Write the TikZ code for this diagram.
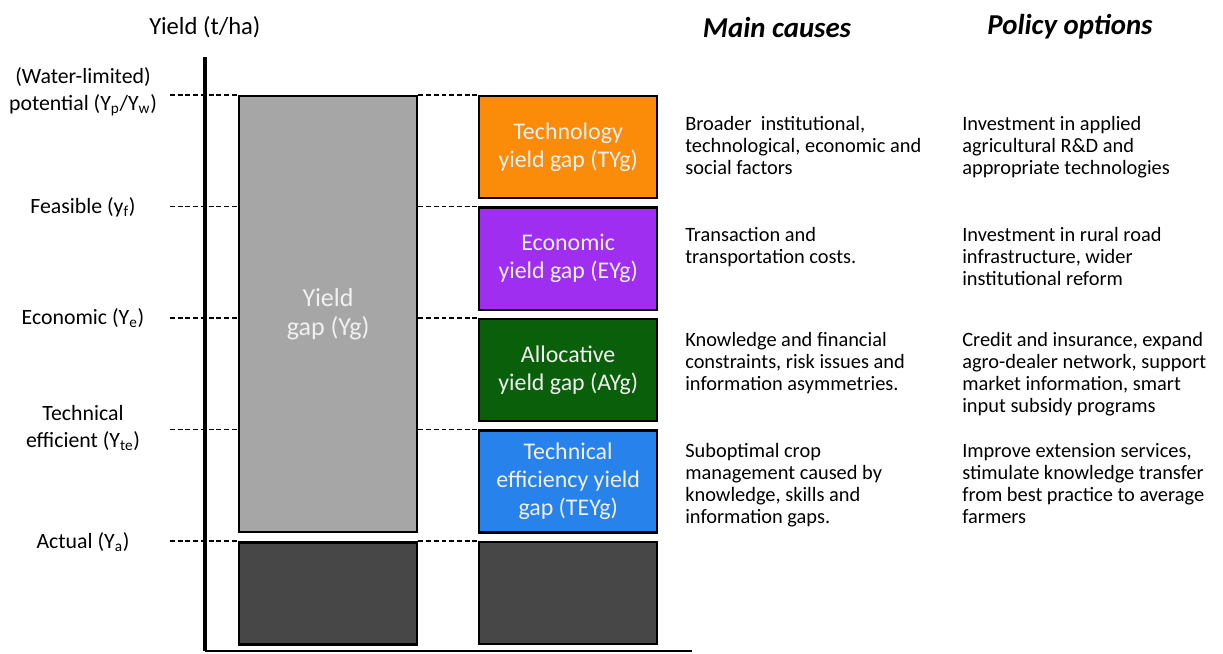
\documentclass[tikz,border=0pt]{standalone}
\usepackage{fontspec}
\setmainfont{Carlito}
\usepackage{tikz}
\usetikzlibrary{positioning}

\definecolor{tygorange}{HTML}{FB8C0A}
\definecolor{eygpurple}{HTML}{A02EF0}
\definecolor{ayggreen}{HTML}{0A5F0A}
\definecolor{teygblue}{HTML}{2882EB}
\definecolor{gaplight}{HTML}{A6A6A6}
\definecolor{actualdark}{HTML}{474747}

\begin{document}
\begin{tikzpicture}[
		x=0.025cm, y=-0.025cm,
		font=\fontsize{15.5}{19.2}\selectfont,
		gapbox/.style={
			rectangle,
			draw=black,
			line width=1.6pt,
			minimum width=4.45cm,
			minimum height=2.55cm,
			inner sep=0pt,
			align=center,
			text=white!94!black,
			font=\fontsize{17}{20}\selectfont
		},
		levelline/.style={
			draw=black,
			line width=1.2pt,
			dash pattern=on 3.5pt off 2pt
		},
		leveltext/.style={
			align=center
		},
		cause/.style={
			anchor=north west,
			align=left,
			inner sep=0pt,
			font=\fontsize{14.5}{15.6}\selectfont
		},
		header/.style={
			font=\fontsize{20.5}{24}\selectfont\bfseries\itshape
		}
		]
		\useasboundingbox (0,0) rectangle (1223,653);
		
		% We start by placing the blocks
		\node [gapbox, fill=gaplight, anchor=north west, minimum height=10.9cm,
			font=\fontsize{18.5}{21.3}\selectfont] (gap) at (238,95) {Yield\\gap (Yg)};
		\node [gapbox, fill=actualdark, below=0.2cm of gap] (actl) {};
		
		\node [gapbox, fill=tygorange, anchor=north west] (tyg) at (478,95) {Technology\\yield gap (TYg)};
		\node [gapbox, fill=eygpurple, below=0.18cm of tyg] (eyg) {Economic\\yield gap (EYg)};
		\node [gapbox, fill=ayggreen, below=0.18cm of eyg] (ayg) {Allocative\\yield gap (AYg)};
		\node [gapbox, fill=teygblue, below=0.18cm of ayg] (teyg) {Technical\\efficiency yield\\gap (TEYg)};
		\node [gapbox, fill=actualdark, below=0.18cm of teyg] (actr) {};
		
		% dashed levels
		\coordinate (dashstart) at (170,0);
		\foreach \b in {tyg,eyg,ayg,teyg,actr} {
			\draw [levelline] (dashstart |- \b.north) -- (gap.west |- \b.north);
			\draw [levelline] (gap.east |- \b.north) -- (\b.north west);
		}
		
		% axis
		\coordinate (axtop) at (205,57);
		\coordinate (axbot) at (205,651);
		\coordinate (axend) at (692,651);
		\draw [line width=1pt] (axbot) -- (axend);
		\draw [line width=2.6pt] (axtop) -- (axbot);
		\node [font=\fontsize{17.5}{21}\selectfont] (ylabel) at (205,27) {Yield (t/ha)};
		
		% level labels
		\node [leveltext] (lvlp) at (83,91.5) {(Water-limited)\\potential (Y\textsubscript{p}/Y\textsubscript{w})};
		\node [leveltext] (lvlf) at (83,207) {Feasible (y\textsubscript{f})};
		\node [leveltext] (lvle) at (83,318) {Economic (Y\textsubscript{e})};
		\node [leveltext] (lvlte) at (83,428) {Technical\\efficient (Y\textsubscript{te})};
		\node [leveltext] (lvla) at (83,542) {Actual (Y\textsubscript{a})};
		
		% columns
		\node [header] (mainc) at (777,27) {Main causes};
		\node [header] (policy) at (1070,27) {Policy options};
		
		\node [cause] (ctyg) at (685,116) {Broader\ \ institutional,\\technological, economic\ and\\social factors};
		\node [cause] (ceyg) at (685,227) {Transaction and\\transportation costs.};
		\node [cause] (cayg) at (685,332) {Knowledge and financial\\constraints, risk issues and\\information asymmetries.};
		\node [cause] (cteyg) at (685,443) {Suboptimal crop\\management caused by\\knowledge, skills and\\information gaps.};
		
		\node [cause] (ptyg) at (962,116) {Investment in applied\\agricultural R\&D and\\appropriate technologies};
		\node [cause] (peyg) at (962,227) {Investment in rural road\\infrastructure, wider\\institutional reform};
		\node [cause] (payg) at (962,332) {Credit and insurance, expand\\agro-dealer network, support\\market information, smart\\input subsidy programs};
		\node [cause] (pteyg) at (962,443) {Improve extension services,\\stimulate knowledge transfer\\from best practice to average\\farmers};
		
\end{tikzpicture}
\end{document}
